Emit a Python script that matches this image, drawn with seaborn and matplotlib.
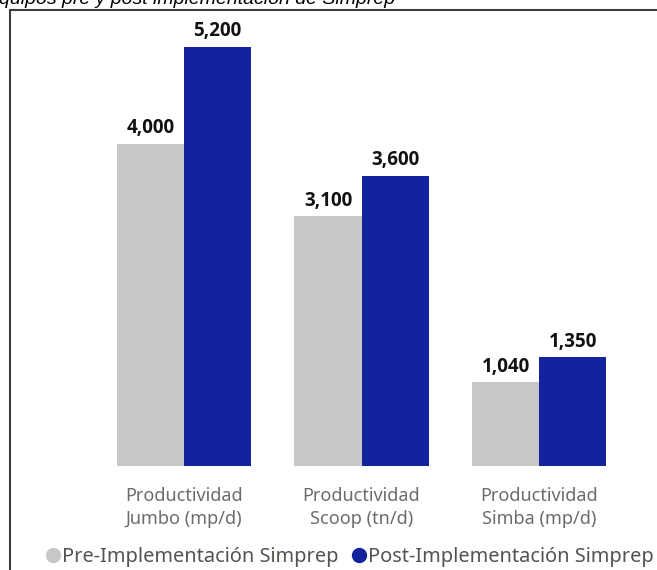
import matplotlib
matplotlib.use("Agg")
import matplotlib.pyplot as plt
from matplotlib.lines import Line2D
import seaborn as sns
import pandas as pd

# Data
categorias = ["Productividad\nJumbo (mp/d)", "Productividad\nScoop (tn/d)", "Productividad\nSimba (mp/d)"]
pre_implementacion = [4000, 3100, 1040]
post_implementacion = [5200, 3600, 1350]
series = ["Pre-Implementación Simprep", "Post-Implementación Simprep"]
titulo = "quipos pre y post implementación de Simprep"

colores = {series[0]: "#C8C8C8", series[1]: "#12239E"}

df = pd.DataFrame({
    "categoria": categorias * 2,
    "valor": pre_implementacion + post_implementacion,
    "serie": [series[0]] * 3 + [series[1]] * 3,
})

sns.set_theme(style="white")
plt.rcParams["font.family"] = ["Noto Sans", "DejaVu Sans"]

W, H = 657, 570
fig = plt.figure(figsize=(W / 100, H / 100), dpi=100)
ax = fig.add_axes([95 / W, 1 - 466 / H, 533 / W, (466 - 20) / H])

sns.barplot(data=df, x="categoria", y="valor", hue="serie", palette=colores,
            order=categorias, hue_order=series, width=0.755, saturation=1,
            errorbar=None, ax=ax, legend=False, linewidth=0)

ax.set_ylim(0, 446 / 80.6 * 1000)
ax.set_xlim(-0.5, 2.5)
ax.set_xlabel("")
ax.set_ylabel("")
ax.set_yticks([])
for s in ax.spines.values():
    s.set_visible(False)
ax.tick_params(axis="x", length=0, pad=15, labelsize=13, labelcolor="#6E6B68")
for lbl in ax.get_xticklabels():
    lbl.set_linespacing(1.35)

for cont in ax.containers:
    ax.bar_label(cont, labels=[f"{v:,.0f}" for v in cont.datavalues], padding=4,
                 fontsize=13.5, fontweight="bold", color="#111111",
                 family=["Open Sans", "DejaVu Sans"])

# legend
handles = [Line2D([0], [0], marker="o", linestyle="", markersize=10,
                  markerfacecolor=colores[s], markeredgecolor=colores[s]) for s in series]
fig.legend(handles, series, loc="center", bbox_to_anchor=(0.5 + 19 / W, 1 - 557 / H),
           ncol=2, frameon=False, fontsize=14.4, handletextpad=-0.15, columnspacing=0.45,
           labelcolor="#55524F", borderaxespad=0, handlelength=1.2)

# frame around the visual
fig.add_artist(Line2D([10 / W, 1], [1 - 10 / H, 1 - 10 / H], color="#3C3C3C", lw=1.5))
fig.add_artist(Line2D([10 / W, 10 / W], [0, 1 - 10 / H], color="#3C3C3C", lw=1.5))

# heading, partially outside the canvas
fig.text(-1 / W, 1 - 4 / H, titulo, family=["Liberation Sans", "DejaVu Sans"],
         style="italic", fontsize=14, color="#000000", ha="left", va="baseline")

fig.savefig("out.png", dpi=100)
